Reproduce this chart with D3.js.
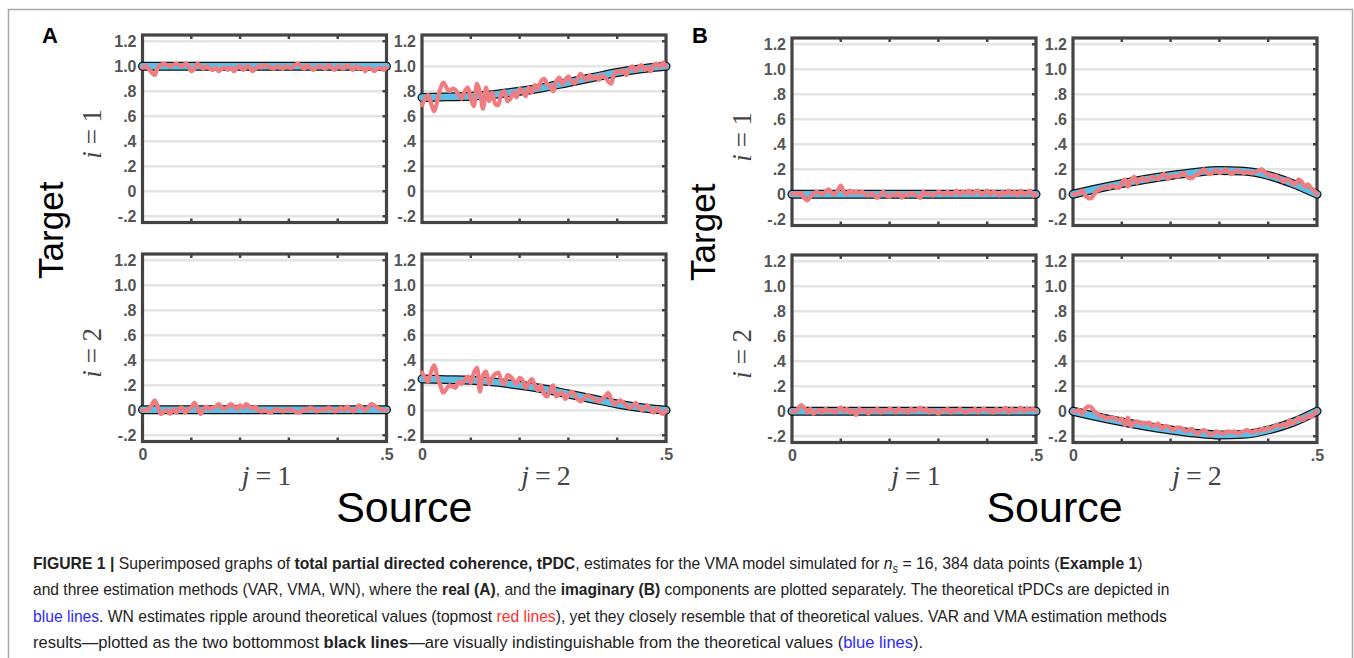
<!DOCTYPE html>
<html>
<head>
<meta charset="utf-8">
<script src="https://cdn.jsdelivr.net/npm/d3@7"></script>
<style>
  body { margin: 0; background: #fff; }
  svg { display: block; font-family: "Liberation Sans", Arial, sans-serif; }
</style>
</head>
<body>
<div id="fig"></div>
<script>
// axis ticks
const yTicks = [-0.2, 0, 0.2, 0.4, 0.6, 0.8, 1.0, 1.2];
const yTickLabels = ["-.2", "0", ".2", ".4", ".6", ".8", "1.0", "1.2"];
const xMinorTicks = [0.1, 0.2, 0.3, 0.4];
const xTickValues = [0, 0.5];
const xTickLabels = ["0", ".5"];

// theoretical tPDC, sampled every 0.05
const theoryFreq = [0, 0.05, 0.1, 0.15, 0.2, 0.25, 0.3, 0.35, 0.4, 0.45, 0.5];
const realTheory11 = [1, 1, 1, 1, 1, 1, 1, 1, 1, 1, 1];
const realTheory12 = [0.75, 0.755, 0.76, 0.775, 0.80, 0.83, 0.87, 0.91, 0.95, 0.98, 1.00];
const realTheory21 = [0.005, 0.005, 0.005, 0.005, 0.005, 0.005, 0.005, 0.005, 0.005, 0.005, 0.005];
const realTheory22 = [0.25, 0.245, 0.24, 0.225, 0.20, 0.17, 0.13, 0.09, 0.05, 0.02, 0.00];
const imagTheory11 = [0, 0, 0, 0, 0, 0, 0, 0, 0, 0, 0];
const imagTheory12 = [0, 0.045, 0.085, 0.12, 0.15, 0.175, 0.19, 0.185, 0.15, 0.085, 0];
const imagTheory21 = [0, 0, 0, 0, 0, 0, 0, 0, 0, 0, 0];
const imagTheory22 = [0, -0.045, -0.085, -0.12, -0.15, -0.175, -0.19, -0.185, -0.15, -0.09, 0];

// WN estimates (red), evenly spaced over 0 .. 0.5
const realWN11 = [0.99,1.00,0.98,0.95,0.93,0.99,1.01,1.02,1.01,1.00,1.01,1.02,1.01,1.00,1.02,1.01,0.96,0.98,1.02,1.00,0.98,1.00,0.98,0.97,0.99,0.96,0.98,0.99,0.97,0.99,0.96,0.99,1.00,0.97,0.99,1.00,0.96,0.98,1.00,0.99,1.01,1.00,0.99,0.98,1.00,0.99,0.98,1.00,0.99,0.99,1.01,1.02,1.00,0.98,1.01,0.99,0.97,0.99,1.00,0.99,0.98,1.01,0.99,0.97,1.00,0.99,0.98,1.01,0.99,0.97,1.00,0.98,0.99,0.96,0.99,0.98,0.96,0.98,0.99,0.97,0.99];
const realWN12 = [0.69,0.74,0.77,0.70,0.64,0.72,0.82,0.87,0.83,0.80,0.82,0.81,0.77,0.74,0.80,0.83,0.74,0.68,0.86,0.79,0.66,0.83,0.72,0.79,0.70,0.69,0.78,0.80,0.72,0.74,0.79,0.75,0.82,0.80,0.76,0.83,0.79,0.85,0.82,0.88,0.90,0.86,0.84,0.80,0.88,0.91,0.86,0.89,0.92,0.88,0.86,0.90,0.94,0.91,0.89,0.93,0.90,0.92,0.89,0.93,0.91,0.88,0.86,0.94,0.96,0.95,0.97,0.93,0.98,1.00,0.96,0.99,1.01,0.97,0.99,0.96,1.01,1.02,0.99,1.03,1.00];
const realWN21 = [0.00,0.00,0.01,0.04,0.08,0.03,-0.03,-0.01,0.00,-0.03,0.01,-0.02,0.01,0.02,-0.02,0.01,0.02,0.06,0.02,-0.03,0.01,0.03,0.01,0.02,0.03,0.05,0.02,0.01,0.03,0.05,0.03,0.01,0.04,0.02,0.05,0.03,0.01,0.03,0.00,-0.01,0.00,-0.01,-0.02,0.00,0.01,0.00,-0.01,0.00,0.01,0.00,-0.01,-0.02,-0.01,0.01,0.00,0.02,0.01,-0.01,0.00,0.01,0.00,0.02,0.01,-0.01,0.00,0.02,0.00,0.03,0.01,-0.01,0.01,0.04,0.02,0.00,0.02,0.05,0.04,0.02,0.01,0.00,0.00];
const realWN22 = [0.30,0.26,0.23,0.31,0.36,0.27,0.20,0.14,0.17,0.20,0.19,0.18,0.23,0.21,0.24,0.27,0.22,0.30,0.34,0.15,0.28,0.31,0.21,0.26,0.29,0.30,0.24,0.21,0.28,0.27,0.24,0.21,0.26,0.24,0.18,0.22,0.25,0.20,0.16,0.20,0.13,0.11,0.16,0.20,0.11,0.13,0.14,0.09,0.12,0.15,0.13,0.09,0.07,0.09,0.12,0.11,0.10,0.08,0.07,0.09,0.11,0.14,0.09,0.05,0.06,0.08,0.06,0.04,0.02,0.03,0.06,0.03,0.00,0.02,0.04,0.00,-0.02,0.02,-0.01,-0.03,0.00];
const imagWN11 = [0.00,0.01,0.00,0.01,-0.03,-0.05,-0.02,0.00,0.02,0.01,0.00,0.02,0.04,0.01,0.00,0.03,0.07,0.02,0.00,0.03,0.01,0.02,0.01,0.02,0.00,-0.01,0.01,-0.01,-0.03,0.00,0.02,-0.01,-0.02,0.00,-0.01,0.01,-0.03,0.00,-0.01,0.01,0.00,-0.01,-0.03,0.02,0.00,0.01,-0.01,0.00,0.02,0.01,0.00,0.02,0.00,0.01,0.03,0.00,0.02,0.01,0.03,0.00,0.02,0.03,0.00,0.01,0.03,0.00,0.02,0.01,-0.01,0.02,0.00,0.03,0.00,0.02,-0.01,0.03,0.00,0.01,0.03,-0.01,0.00];
const imagWN12 = [0.00,0.00,0.01,0.03,-0.01,-0.03,-0.03,0.00,0.03,0.04,0.05,0.06,0.05,0.07,0.06,0.05,0.09,0.12,0.06,0.11,0.14,0.09,0.12,0.13,0.11,0.12,0.14,0.13,0.12,0.15,0.16,0.12,0.14,0.15,0.14,0.15,0.17,0.15,0.13,0.13,0.15,0.16,0.18,0.20,0.17,0.16,0.18,0.19,0.17,0.18,0.20,0.18,0.16,0.18,0.19,0.18,0.17,0.18,0.17,0.17,0.18,0.19,0.20,0.17,0.16,0.14,0.15,0.14,0.12,0.10,0.12,0.11,0.09,0.08,0.12,0.10,0.06,0.08,0.05,0.03,0.00];
const imagWN21 = [0.00,0.00,0.02,0.05,0.03,-0.01,0.02,-0.02,0.00,0.01,-0.01,0.02,0.00,0.01,-0.01,0.01,0.03,0.00,0.02,-0.01,0.01,-0.03,0.02,0.00,0.01,-0.02,0.01,0.00,0.02,-0.01,0.01,0.00,0.02,0.01,-0.01,0.02,0.00,0.01,-0.01,0.02,0.00,0.01,0.03,0.00,0.02,-0.01,0.01,0.00,-0.02,0.01,0.00,0.02,-0.01,0.01,0.00,0.02,0.00,-0.01,0.01,0.00,0.02,-0.01,0.01,0.02,0.00,0.01,-0.01,0.02,0.00,0.01,0.03,-0.01,0.02,0.00,0.01,0.03,0.00,0.02,0.01,0.02,0.00];
const imagWN22 = [0.00,0.00,0.01,-0.02,0.02,0.04,0.03,0.00,-0.02,-0.04,-0.04,-0.06,-0.05,-0.05,-0.06,-0.07,-0.06,-0.11,-0.05,-0.12,-0.09,-0.08,-0.10,-0.09,-0.10,-0.09,-0.12,-0.11,-0.10,-0.14,-0.12,-0.12,-0.14,-0.15,-0.13,-0.13,-0.14,-0.16,-0.15,-0.14,-0.17,-0.18,-0.16,-0.15,-0.17,-0.19,-0.18,-0.16,-0.17,-0.18,-0.17,-0.16,-0.17,-0.16,-0.18,-0.17,-0.16,-0.15,-0.16,-0.17,-0.15,-0.16,-0.14,-0.15,-0.13,-0.14,-0.12,-0.11,-0.12,-0.10,-0.12,-0.07,-0.10,-0.08,-0.05,-0.07,-0.06,-0.03,-0.05,-0.02,0.00];

const width = 1354, height = 658;
const plotW = 244, plotH = 187.5;

const svg = d3.select("#fig").append("svg")
  .attr("width", width)
  .attr("height", height);

// outer figure frame
svg.append("rect")
  .attr("x", 8.5).attr("y", 9.5)
  .attr("width", 1344).attr("height", 700)
  .attr("fill", "none")
  .attr("stroke", "#a8a8a8")
  .attr("stroke-width", 1.5);

const x = d3.scaleLinear().domain([0, 0.5]).range([0, plotW]);
const y = d3.scaleLinear().domain([-0.25, 1.25]).range([plotH, 0]);

const theoryLine = d3.line()
  .x((d, i) => x(theoryFreq[i]))
  .y(d => y(d))
  .curve(d3.curveMonotoneX);

function wnLine(arr) {
  return d3.line()
    .x((d, i) => x(i * 0.5 / (arr.length - 1)))
    .y(d => y(d))
    .curve(d3.curveCatmullRom.alpha(0.5))(arr);
}

function drawCell(g, theory, wn, showX) {
  // gridlines
  g.append("g").selectAll("line")
    .data(yTicks)
    .enter().append("line")
      .attr("x1", 0).attr("x2", plotW)
      .attr("y1", d => y(d)).attr("y2", d => y(d))
      .attr("stroke", "#e4e4e4")
      .attr("stroke-width", 2.6);

  // small inward ticks
  g.append("g").selectAll("line")
    .data(xMinorTicks)
    .enter().append("line")
      .attr("x1", d => x(d)).attr("x2", d => x(d))
      .attr("y1", 0).attr("y2", 4)
      .attr("stroke", "#444").attr("stroke-width", 2.5);
  g.append("g").selectAll("line")
    .data(xMinorTicks)
    .enter().append("line")
      .attr("x1", d => x(d)).attr("x2", d => x(d))
      .attr("y1", plotH).attr("y2", plotH - 4)
      .attr("stroke", "#444").attr("stroke-width", 2.5);
  g.append("g").selectAll("line")
    .data(yTicks)
    .enter().append("line")
      .attr("x1", plotW).attr("x2", plotW - 4)
      .attr("y1", d => y(d)).attr("y2", d => y(d))
      .attr("stroke", "#444").attr("stroke-width", 2.5);

  // frame
  g.append("rect")
    .attr("width", plotW).attr("height", plotH)
    .attr("fill", "none")
    .attr("stroke", "#444")
    .attr("stroke-width", 3.2);

  // y axis labels
  const ya = g.append("g")
    .call(d3.axisLeft(y).tickValues(yTicks)
      .tickFormat((d, i) => yTickLabels[i])
      .tickSize(0).tickPadding(6));
  ya.select(".domain").remove();
  ya.selectAll("text")
    .attr("font-family", "Liberation Sans, Arial, sans-serif")
    .attr("font-size", 16).attr("font-weight", "bold")
    .attr("fill", "#555");

  if (showX) {
    const xa = g.append("g")
      .attr("transform", "translate(0," + plotH + ")")
      .call(d3.axisBottom(x).tickValues(xTickValues)
        .tickFormat((d, i) => xTickLabels[i])
        .tickSize(0).tickPadding(7));
    xa.select(".domain").remove();
    xa.selectAll("text")
      .attr("font-family", "Liberation Sans, Arial, sans-serif")
      .attr("font-size", 16).attr("font-weight", "bold")
      .attr("fill", "#555");
  }

  // VAR / VMA (black) under theoretical (blue)
  g.append("path")
    .attr("d", theoryLine(theory))
    .attr("fill", "none")
    .attr("stroke", "#111")
    .attr("stroke-width", 9)
    .attr("stroke-linecap", "round");
  g.append("path")
    .attr("d", theoryLine(theory))
    .attr("fill", "none")
    .attr("stroke", "#5bbfe8")
    .attr("stroke-width", 6.5)
    .attr("stroke-linecap", "round");

  // WN estimate
  g.append("path")
    .attr("d", wnLine(wn))
    .attr("fill", "none")
    .attr("stroke", "#ef7c80")
    .attr("stroke-width", 4.2)
    .attr("stroke-linejoin", "round")
    .attr("stroke-linecap", "round");
}

const panels = [
  { letter: "A", lx: 42, cols: [142.5, 422], rows: [35, 254],
    theory: [[realTheory11, realTheory12], [realTheory21, realTheory22]],
    wn: [[realWN11, realWN12], [realWN21, realWN22]],
    targetX: 63, iX: 101 },
  { letter: "B", lx: 692, cols: [792, 1073], rows: [38, 255],
    theory: [[imagTheory11, imagTheory12], [imagTheory21, imagTheory22]],
    wn: [[imagWN11, imagWN12], [imagWN21, imagWN22]],
    targetX: 715, iX: 751 }
];

panels.forEach(function(p) {
  svg.append("text")
    .attr("x", p.lx).attr("y", 43)
    .attr("font-size", 22).attr("font-weight", "bold")
    .attr("fill", "#000")
    .text(p.letter);

  p.rows.forEach(function(ry, r) {
    p.cols.forEach(function(cx, c) {
      const g = svg.append("g").attr("transform", "translate(" + cx + "," + ry + ")");
      drawCell(g, p.theory[r][c], p.wn[r][c], r === 1);
    });

    // i = 1, i = 2
    const it = svg.append("text")
      .attr("transform", "translate(" + p.iX + "," + (ry + plotH / 2 + 5) + ") rotate(-90)")
      .attr("text-anchor", "middle")
      .attr("font-family", "Liberation Serif, Times New Roman, serif")
      .attr("font-size", 27)
      .attr("fill", "#444");
    it.append("tspan").attr("font-style", "italic").text("i");
    it.append("tspan").text(" = " + (r + 1));
  });

  // j = 1, j = 2
  p.cols.forEach(function(cx, c) {
    const jt = svg.append("text")
      .attr("x", cx + plotW / 2 + 2).attr("y", 485)
      .attr("text-anchor", "middle")
      .attr("font-family", "Liberation Serif, Times New Roman, serif")
      .attr("font-size", 28)
      .attr("fill", "#444");
    jt.append("tspan").attr("font-style", "italic").text("j");
    jt.append("tspan").attr("dx", 6).text("=");
    jt.append("tspan").attr("dx", 6).text(String(c + 1));
  });

  const midY = (p.rows[0] + p.rows[1] + plotH) / 2;
  svg.append("text")
    .attr("transform", "translate(" + p.targetX + "," + (midY - 8) + ") rotate(-90)")
    .attr("text-anchor", "middle")
    .attr("font-size", 35)
    .attr("fill", "#000")
    .text("Target");

  svg.append("text")
    .attr("x", (p.cols[0] + p.cols[1] + plotW) / 2)
    .attr("y", 522)
    .attr("text-anchor", "middle")
    .attr("font-size", 43)
    .attr("fill", "#000")
    .text("Source");
});

// caption
const captionLines = [
  { w: 1110, parts: [
    { t: "FIGURE 1 | ", b: true }, { t: "Superimposed graphs of " },
    { t: "total partial directed coherence, tPDC", b: true },
    { t: ", estimates for the VMA model simulated for " },
    { t: "n", it: true }, { t: "s", it: true, sub: true },
    { t: " = 16, 384 data points (" }, { t: "Example 1", b: true }, { t: ")" } ] },
  { w: 1137, parts: [
    { t: "and three estimation methods (VAR, VMA, WN), where the " },
    { t: "real (A)", b: true }, { t: ", and the " }, { t: "imaginary (B)", b: true },
    { t: " components are plotted separately. The theoretical tPDCs are depicted in" } ] },
  { w: 1135, parts: [
    { t: "blue lines", c: "#2b2bff" },
    { t: ". WN estimates ripple around theoretical values (topmost " },
    { t: "red lines", c: "#ff3030" },
    { t: "), yet they closely resemble that of theoretical values. VAR and VMA estimation methods" } ] },
  { w: 891, parts: [
    { t: "results\u2014plotted as the two bottommost " }, { t: "black lines", b: true },
    { t: "\u2014are visually indistinguishable from the theoretical values (" },
    { t: "blue lines", c: "#2b2bff" }, { t: ")." } ] }
];

captionLines.forEach(function(line, k) {
  const g = svg.append("g");
  const t = g.append("text")
    .attr("font-size", 17)
    .attr("fill", "#222");
  line.parts.forEach(function(p) {
    const s = t.append("tspan").text(p.t);
    if (p.b) s.attr("font-weight", "bold");
    if (p.it) s.attr("font-style", "italic");
    if (p.c) s.attr("fill", p.c);
    if (p.sub) s.attr("font-size", 12).attr("dy", 4);
    else if (p.t.startsWith(" = 16")) s.attr("dy", -4);
  });
  // squeeze horizontally to the width of the printed line
  const natural = t.node().getComputedTextLength();
  g.attr("transform", "translate(33," + (569 + k * 26.3) + ") scale(" + (line.w / natural) + ",1)");
});
</script>
</body>
</html>
